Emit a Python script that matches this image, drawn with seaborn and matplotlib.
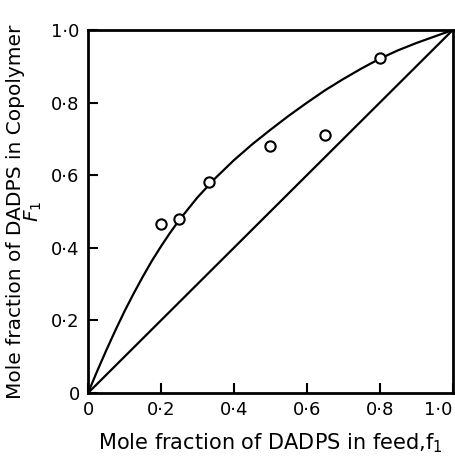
import matplotlib
matplotlib.use("Agg")
import matplotlib.pyplot as plt
import seaborn as sns
import pandas as pd

# Experimental copolymer composition (feed f1 vs copolymer F1)
feed_f1 = [0.20, 0.25, 0.333, 0.50, 0.65, 0.80]
copolymer_F1 = [0.466, 0.48, 0.58, 0.68, 0.71, 0.922]

# Theoretical composition curve
curve_f1 = [0.0, 0.025, 0.05, 0.075, 0.10, 0.125, 0.15, 0.175, 0.20, 0.225,
            0.25, 0.30, 0.35, 0.40, 0.45, 0.50, 0.55, 0.60, 0.65, 0.70, 0.75,
            0.80, 0.85, 0.90, 0.95, 1.0]
curve_F1 = [0.0, 0.060, 0.1175, 0.1725, 0.225, 0.2738, 0.320, 0.3638, 0.4038,
            0.4413, 0.4763, 0.5388, 0.5928, 0.6413, 0.685, 0.725, 0.7635, 0.7995,
            0.8340, 0.8650, 0.8940, 0.921, 0.944, 0.964, 0.982, 1.0]

# Ideal (F1 = f1) reference line
diag_f1 = [0.0, 1.0]
diag_F1 = [0.0, 1.0]

tick_values = [0.0, 0.2, 0.4, 0.6, 0.8, 1.0]
tick_labels = ["0", "0·2", "0·4", "0·6", "0·8", "1·0"]

sns.set_theme(style="ticks")
plt.rcParams["font.family"] = ["DejaVu Sans"]
plt.rcParams["mathtext.fontset"] = "dejavusans"

fig = plt.figure(figsize=(4.56, 4.61), dpi=100)
ax = fig.add_axes([0.193, 0.1475, 0.800, 0.7875])

exp_df = pd.DataFrame({"f1": feed_f1, "F1": copolymer_F1})
curve_df = pd.DataFrame({"f1": curve_f1, "F1": curve_F1})
diag_df = pd.DataFrame({"f1": diag_f1, "F1": diag_F1})

sns.lineplot(data=curve_df, x="f1", y="F1", ax=ax, color="black", linewidth=1.6,
             sort=True, estimator=None)
sns.lineplot(data=diag_df, x="f1", y="F1", ax=ax, color="black", linewidth=1.6,
             estimator=None)
sns.scatterplot(data=exp_df, x="f1", y="F1", ax=ax, s=55, facecolor="white",
                edgecolor="black", linewidth=1.5, zorder=5)

ax.set_xlim(0, 1.0)
ax.set_ylim(0, 1.0)
ax.set_xticks(tick_values)
ax.set_xticklabels(tick_labels)
ax.set_yticks(tick_values)
ax.set_yticklabels(tick_labels)
ax.tick_params(direction="in", length=7, width=1.5, labelsize=13, colors="black",
               pad=6)

# keep the last x tick label inside the figure edge
ax.get_xticklabels()[-1].set_horizontalalignment("right")

for side in ["left", "right", "top", "bottom"]:
    ax.spines[side].set_visible(True)
    ax.spines[side].set_linewidth(2.0)
    ax.spines[side].set_color("black")

ax.set_xlabel("Mole fraction of DADPS in feed,f$_1$", fontsize=15, labelpad=9,
              color="black")
ax.set_ylabel("Mole fraction of DADPS in Copolymer\n$F_1$", fontsize=14.5,
              labelpad=5, linespacing=0.85, color="black")

fig.savefig("out.png", dpi=100)
